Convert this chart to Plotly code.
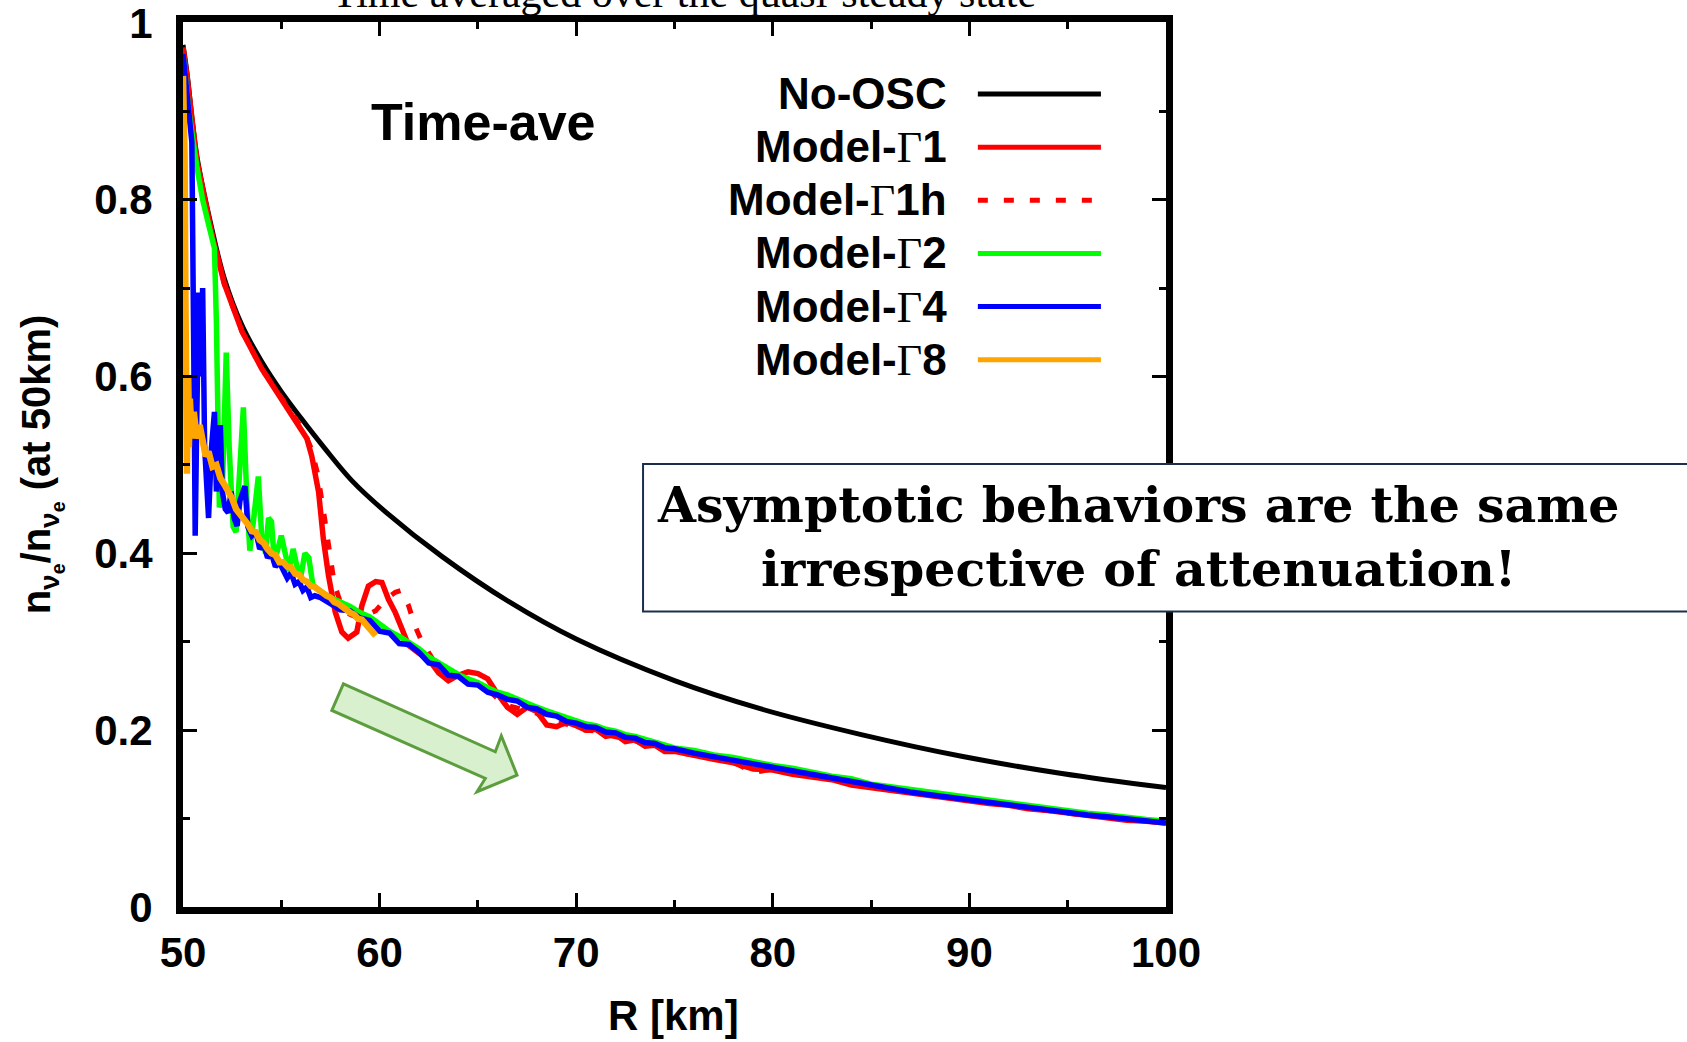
import plotly.graph_objects as go

# ---------------- data ----------------
R_NOOSC = [50, 50.2, 50.7, 51.5, 52.1, 53, 54, 55, 56, 57.2, 58.6, 60.3, 63.2, 66.6, 70, 75, 79.4, 84.5, 89.6, 94.7, 100]
N_NOOSC = [0.975, 0.944, 0.85, 0.764, 0.711, 0.658, 0.617, 0.583, 0.553, 0.519, 0.482, 0.447, 0.396, 0.345, 0.303, 0.256, 0.224, 0.195, 0.1705, 0.151, 0.135]

# common radii of the asymptotic tail
R_TAIL = [57, 57.5, 58, 58.5, 59, 59.5, 60, 60.5, 61, 61.5, 62, 62.5, 63, 63.5, 64, 64.5, 65, 65.5,
          66, 66.5, 67, 67.5, 68, 68.5, 69, 69.5, 70, 70.5, 71, 71.5, 72, 72.5, 73, 73.5, 74, 74.5, 75,
          76, 77, 78, 79, 80, 81, 82, 83, 84, 85, 86, 87, 88, 89, 90, 91, 92, 93, 94, 95, 96, 97, 98, 99, 100]

# Model-Γ1 (solid red)
R_G1_EARLY = [50, 50.2, 50.7, 51.5, 52.1, 53, 54, 55, 55.6, 56.0, 56.3, 56.55, 56.9, 57.14, 57.4, 57.74, 58.08,
              58.4, 58.84, 59.1, 59.43, 59.8, 60.12, 60.45, 60.8, 61.13, 61.47]
N_G1_EARLY = [0.972, 0.94, 0.845, 0.758, 0.705, 0.651, 0.609, 0.575, 0.555, 0.542, 0.53, 0.51, 0.469, 0.416, 0.375,
              0.334, 0.311, 0.304, 0.311, 0.341, 0.363, 0.368, 0.367, 0.348, 0.333, 0.315, 0.296]
N_G1_TAIL = [0.287, 0.280, 0.265, 0.256, 0.262, 0.266, 0.264, 0.258, 0.241, 0.226, 0.218, 0.226, 0.221, 0.206,
             0.204, 0.209, 0.205, 0.200, 0.201, 0.193, 0.195, 0.187, 0.189, 0.182, 0.183, 0.176, 0.176,
             0.171, 0.167, 0.163, 0.156, 0.155, 0.150, 0.147, 0.144, 0.138, 0.135, 0.131, 0.129, 0.126, 0.122,
             0.120, 0.117, 0.115, 0.111, 0.109, 0.106, 0.103, 0.101, 0.098, 0.097, 0.095]  # from R = 62

# Model-Γ1h (dashed red)
R_G1H_EARLY = [50, 50.2, 50.7, 51.5, 52.1, 53, 54, 55, 55.6, 56.1, 56.5, 56.85, 57.2, 57.45, 57.7, 58.0, 58.3,
               58.8, 59.3, 59.8, 60.3, 60.8, 61.1, 61.47, 61.8, 62.15]
N_G1H_EARLY = [0.972, 0.94, 0.845, 0.758, 0.705, 0.651, 0.609, 0.575, 0.556, 0.54, 0.52, 0.49, 0.44, 0.40, 0.365,
               0.345, 0.333, 0.328, 0.33, 0.335, 0.348, 0.356, 0.358, 0.341, 0.318, 0.30]
N_G1H_TAIL = [0.287, 0.270, 0.262, 0.255, 0.258, 0.250, 0.246, 0.236, 0.228, 0.225, 0.222, 0.219, 0.212, 0.208,
              0.207, 0.202, 0.200, 0.199, 0.195, 0.193, 0.190, 0.188, 0.184, 0.181, 0.178, 0.175,
              0.172, 0.168, 0.164, 0.152, 0.156, 0.152, 0.148, 0.145, 0.140, 0.136, 0.132, 0.130, 0.127, 0.123,
              0.120, 0.118, 0.115, 0.112, 0.109, 0.106, 0.104, 0.102, 0.099, 0.097, 0.095]  # from R = 62.5

# Model-Γ2 (green)
R_G2_EARLY = [50.0, 50.3, 50.7, 51.0, 51.3, 51.6, 51.7, 51.8, 51.85, 52.0, 52.2, 52.35, 52.55, 52.7, 52.9, 53.07,
              53.25, 53.4, 53.6, 53.83, 54.0, 54.2, 54.35, 54.5, 54.65, 54.8, 55.0, 55.2, 55.4, 55.6, 55.8, 56.0,
              56.2, 56.4, 56.6, 56.8, 57.0]
N_G2_EARLY = [0.965, 0.90, 0.838, 0.800, 0.772, 0.745, 0.66, 0.50, 0.452, 0.47, 0.627, 0.52, 0.43, 0.424, 0.50,
              0.565, 0.46, 0.403, 0.44, 0.487, 0.42, 0.40, 0.44, 0.436, 0.39, 0.405, 0.42, 0.40, 0.38, 0.405,
              0.385, 0.375, 0.40, 0.395, 0.365, 0.36, 0.357]
N_G2_TAIL = [0.350, 0.345, 0.340, 0.333, 0.328, 0.320, 0.312, 0.306, 0.299, 0.292, 0.283, 0.276, 0.270, 0.263,
             0.258, 0.254, 0.248, 0.243, 0.240, 0.235, 0.231, 0.226, 0.222, 0.218, 0.214, 0.211, 0.207, 0.205,
             0.201, 0.199, 0.195, 0.193, 0.190, 0.186, 0.184, 0.180,
             0.177, 0.172, 0.169, 0.164, 0.160, 0.157, 0.152, 0.148, 0.145, 0.139, 0.136, 0.133, 0.130, 0.126,
             0.123, 0.120, 0.118, 0.115, 0.112, 0.109, 0.106, 0.104, 0.101, 0.099, 0.097]  # from R = 57.5

# Model-Γ4 (blue)
R_G4_EARLY = [50.0, 50.3, 50.45, 50.55, 50.62, 50.7, 50.8, 50.9, 51.0, 51.1, 51.2, 51.3, 51.45, 51.6, 51.7, 51.8,
              51.9, 52.0, 52.15, 52.3, 52.45, 52.6, 52.75, 52.9, 53.05, 53.15, 53.3, 53.5, 53.7, 53.9, 54.1, 54.3,
              54.5, 54.7, 54.9, 55.1, 55.3, 55.5, 55.7, 55.9, 56.1, 56.3, 56.5, 56.7]
N_G4_EARLY = [0.965, 0.90, 0.865, 0.62, 0.42, 0.55, 0.695, 0.60, 0.70, 0.52, 0.46, 0.44, 0.52, 0.56, 0.47, 0.50,
              0.545, 0.47, 0.45, 0.446, 0.47, 0.44, 0.431, 0.46, 0.47, 0.476, 0.43, 0.42, 0.425, 0.405, 0.41,
              0.395, 0.40, 0.385, 0.39, 0.38, 0.372, 0.378, 0.365, 0.368, 0.358, 0.362, 0.350, 0.352]
N_G4_TAIL = [0.350, 0.343, 0.336, 0.335, 0.327, 0.324, 0.312, 0.310, 0.298, 0.297, 0.288, 0.276, 0.274, 0.262,
             0.261, 0.252, 0.251, 0.243, 0.240, 0.235, 0.233, 0.226, 0.224, 0.218, 0.216, 0.210, 0.208, 0.204,
             0.203, 0.198, 0.197, 0.192, 0.191, 0.186, 0.185, 0.180, 0.179,
             0.174, 0.170, 0.165, 0.162, 0.157, 0.154, 0.150, 0.146, 0.141, 0.137, 0.134, 0.130, 0.127, 0.124,
             0.121, 0.118, 0.116, 0.113, 0.110, 0.107, 0.104, 0.102, 0.100, 0.097, 0.095]  # from R = 57

# Model-Γ8 (orange)
R_G8 = [50.0, 50.08, 50.12, 50.16, 50.2, 50.25, 50.3, 50.35, 50.45, 50.55, 50.7, 50.85, 51.0, 51.15, 51.3, 51.5,
        51.7, 51.9, 52.1, 52.3, 52.5, 52.7, 52.9, 53.1, 53.3, 53.5, 53.7, 53.9, 54.1, 54.3, 54.5, 54.7, 54.9,
        55.1, 55.3, 55.5, 55.7, 55.9, 56.1, 56.3, 56.5, 56.7, 56.9, 57.1, 57.3, 57.5, 57.7, 57.9, 58.1, 58.3,
        58.5, 58.7, 58.9, 59.1, 59.3, 59.5, 59.7, 59.8]
N_G8 = [0.94, 0.85, 0.70, 0.56, 0.49, 0.60, 0.52, 0.575, 0.53, 0.56, 0.53, 0.545, 0.525, 0.51, 0.515, 0.498,
        0.50, 0.485, 0.478, 0.47, 0.462, 0.45, 0.445, 0.44, 0.433, 0.425, 0.424, 0.415, 0.412, 0.405, 0.40,
        0.398, 0.39, 0.39, 0.385, 0.384, 0.377, 0.376, 0.37, 0.368, 0.363, 0.362, 0.358, 0.355, 0.352, 0.35,
        0.345, 0.343, 0.339, 0.337, 0.333, 0.331, 0.326, 0.325, 0.32, 0.317, 0.31, 0.307]

LEGEND_NAMES = ["No-OSC", "Model-Γ1", "Model-Γ1h", "Model-Γ2", "Model-Γ4", "Model-Γ8"]
X_TICKS = [50, 60, 70, 80, 90, 100]
Y_TICKS = [0, 0.2, 0.4, 0.6, 0.8, 1]
Y_TICK_TEXT = ["0", "0.2", "0.4", "0.6", "0.8", "1"]

# ---------------- assemble series ----------------
i62 = R_TAIL.index(62)
i625 = R_TAIL.index(62.5)
i575 = R_TAIL.index(57.5)
series = [
    ("No-OSC", R_NOOSC, N_NOOSC, "#000000", "solid", 5, "spline"),
    ("Model-Γ1h", R_G1H_EARLY + R_TAIL[i625:], N_G1H_EARLY + N_G1H_TAIL, "#ff0000", "10px,16px", 5, "linear"),
    ("Model-Γ1", R_G1_EARLY + R_TAIL[i62:], N_G1_EARLY + N_G1_TAIL, "#ff0000", "solid", 5.5, "linear"),
    ("Model-Γ2", R_G2_EARLY + R_TAIL[i575:], N_G2_EARLY + N_G2_TAIL, "#00ff00", "solid", 5.5, "linear"),
    ("Model-Γ4", R_G4_EARLY + R_TAIL, N_G4_EARLY + N_G4_TAIL, "#0000ff", "solid", 5.5, "linear"),
    ("Model-Γ8", R_G8, N_G8, "#ffa500", "solid", 6.5, "linear"),
]

fig = go.Figure()
for name, xs, ys, col, dash, w, shp in series:
    fig.add_trace(go.Scatter(x=xs, y=ys, mode="lines", name=name,
                             line=dict(color=col, width=w, dash=dash, shape=shp), showlegend=False))

SANS = "Liberation Sans, Arial, sans-serif"
SERIF = "Liberation Serif, Times New Roman, serif"

# ---------------- manual legend ----------------
leg_colors = ["#000000", "#ff0000", "#ff0000", "#00ff00", "#0000ff", "#ffa500"]
leg_dash = ["solid", "solid", "10px,16px", "solid", "solid", "solid"]
leg_y = [0.9197, 0.8594, 0.7993, 0.7392, 0.6791, 0.6189]
for nm, c, d, yy in zip(LEGEND_NAMES, leg_colors, leg_dash, leg_y):
    fig.add_shape(type="line", xref="x", yref="y", x0=90.43, x1=96.69, y0=yy, y1=yy,
                  line=dict(color=c, width=5, dash=d))
    label = nm.replace("Γ", "<span style=\"font-family:Liberation Serif;font-weight:normal\">Γ</span>")
    fig.add_annotation(x=88.95, y=yy, xref="x", yref="y", xanchor="right", yanchor="middle",
                       text="<b>" + label + "</b>", showarrow=False,
                       font=dict(family=SANS, size=44, color="black"))

# "Time-ave" label
fig.add_annotation(x=65.31, y=0.888, xref="x", yref="y", xanchor="center", yanchor="middle",
                   text="<b>Time-ave</b>", showarrow=False, font=dict(family=SANS, size=52, color="black"))

# top (cut-off) title
fig.add_annotation(x=0.51, y=1.0045, xref="paper", yref="paper", xanchor="center", yanchor="bottom",
                   text="Time averaged over the quasi-steady state", showarrow=False,
                   font=dict(family=SERIF, size=42, color="black"))

# green arrow
fig.add_shape(type="path", xref="x", yref="y",
              path="M 58.162 0.2525 L 65.886 0.1755 L 66.191 0.1936 L 66.991 0.1492 L 64.954 0.1304 "
                   "L 65.377 0.1454 L 57.571 0.2224 Z",
              fillcolor="#d9f0ce", line=dict(color="#5c9e3d", width=3), layer="above")

# message box
fig.add_shape(type="rect", xref="paper", yref="paper", x0=0.468, x1=1.62, y0=0.334, y1=0.5006,
              fillcolor="white", line=dict(color="#1c2e4a", width=2), layer="above")
fig.add_annotation(x=0.972, y=0.418, xref="paper", yref="paper", xanchor="center", yanchor="middle",
                   text="<b>Asymptotic behaviors are the same<br>irrespective of attenuation!</b>",
                   showarrow=False, align="center",
                   font=dict(family="DejaVu Serif, serif", size=49, color="black"))

# axis titles
fig.add_annotation(x=-0.1446, y=0.50, xref="paper", yref="paper", xanchor="center", yanchor="middle",
                   textangle=-90, showarrow=False,
                   text="<b>n<sub>ν<sub>e</sub></sub>/n<sub>ν<sub>e</sub></sub> (at 50km)</b>",
                   font=dict(family=SANS, size=40, color="black"))
fig.add_annotation(x=0.4985, y=-0.1514, xref="paper", yref="paper", xanchor="center", yanchor="bottom",
                   text="<b>R [km]</b>", showarrow=False,
                   font=dict(family=SANS, size=42, color="black"))

axis_common = dict(showline=True, linecolor="black", linewidth=7, mirror="allticks",
                   ticks="inside", tickcolor="black", tickwidth=3, ticklen=14,
                   showgrid=False, zeroline=False, ticklabeloverflow="allow", automargin=False,
                   tickfont=dict(family=SANS, size=42, color="black", weight="bold"))

fig.update_xaxes(range=[50, 100], tickvals=X_TICKS, ticktext=[str(v) for v in X_TICKS],
                 minor=dict(dtick=5, tick0=50, ticklen=7, tickwidth=3, tickcolor="black", ticks="inside"),
                 ticklabelstandoff=3, **axis_common)
fig.update_yaxes(range=[0, 1.001], tickvals=Y_TICKS, ticktext=Y_TICK_TEXT,
                 minor=dict(dtick=0.1, tick0=0, ticklen=7, tickwidth=3, tickcolor="black", ticks="inside"),
                 ticklabelstandoff=15, **axis_common)

# full-window figure (the page's default body margin is removed below)
fig.update_layout(width=1687, height=1042, paper_bgcolor="white", plot_bgcolor="white",
                  margin=dict(l=183, r=521, t=22, b=135, autoexpand=False), showlegend=False)

fig.write_html("out.html", config={"displayModeBar": False},
               post_script="document.body.style.margin='0px';document.body.style.overflow='hidden';")
